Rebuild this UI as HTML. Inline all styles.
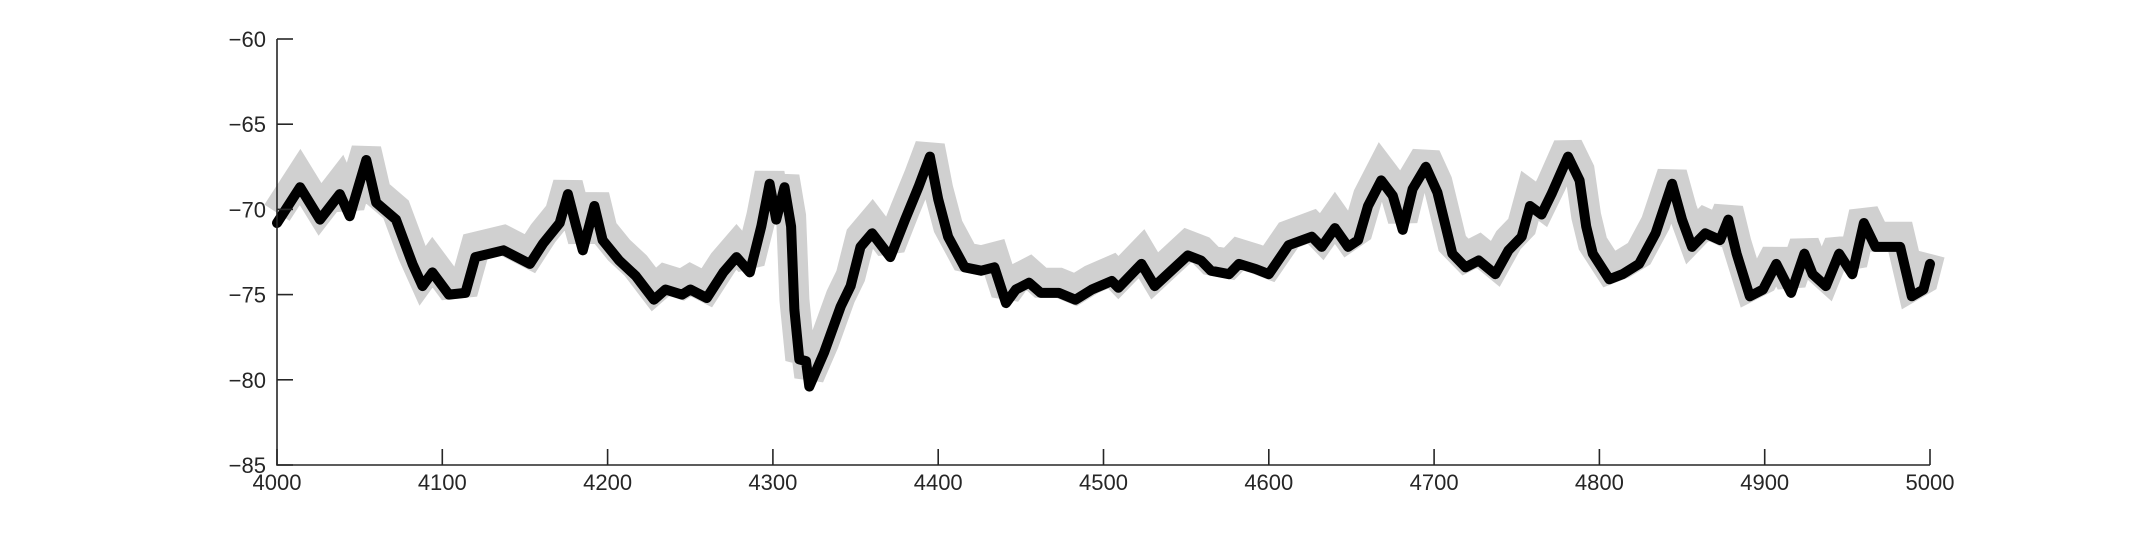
<!DOCTYPE html>
<html><head><meta charset="utf-8"><style>
html,body{margin:0;padding:0;background:#fff;width:2133px;height:533px;overflow:hidden}
svg{display:block}
text{font-family:"Liberation Sans",sans-serif;font-size:22px;fill:#262626}
</style></head><body>
<svg id="chart" width="2133" height="533" viewBox="0 0 2133 533">
<g id="band"></g>
<g id="series"></g>
<g id="axes"></g>
</svg>
<script>
const xVals=[4000,4014,4026,4038,4044,4054,4060,4072,4082,4088,4094,4104,4114,4120,4137,4153,4161,4171,4176,4181,4185,4192,4197,4207,4217,4228,4235,4245,4250,4260,4270,4278,4286,4293,4298,4302,4307,4311,4313,4316,4320,4322,4331,4341,4347,4353,4360,4371,4380,4388,4395,4400,4406,4416,4426,4434,4441,4447,4455,4462,4473,4483,4493,4505,4509,4523,4531,4541,4551,4559,4565,4576,4582,4592,4600,4612,4626,4632,4640,4648,4654,4660,4668,4675,4681,4687,4695,4702,4707,4711,4719,4727,4737,4745,4753,4758,4765,4771,4781,4788,4792,4796,4806,4814,4824,4834,4844,4850,4856,4864,4873,4878,4883,4891,4899,4907,4916,4924,4929,4937,4945,4953,4960,4967,4976,4982,4989,4996,5000];
const yVals=[-70.8,-68.7,-70.6,-69.1,-70.4,-67.1,-69.6,-70.6,-73.2,-74.5,-73.7,-75.0,-74.9,-72.8,-72.4,-73.2,-72.0,-70.8,-69.1,-71.0,-72.4,-69.8,-71.8,-73.0,-73.9,-75.3,-74.7,-75.0,-74.7,-75.2,-73.7,-72.8,-73.7,-71.0,-68.5,-70.6,-68.7,-71.0,-75.9,-78.8,-78.9,-80.4,-78.4,-75.7,-74.5,-72.2,-71.4,-72.8,-70.6,-68.7,-66.9,-69.4,-71.6,-73.4,-73.6,-73.4,-75.5,-74.7,-74.3,-74.9,-74.9,-75.3,-74.7,-74.2,-74.6,-73.2,-74.5,-73.6,-72.7,-73.0,-73.6,-73.8,-73.2,-73.5,-73.8,-72.1,-71.6,-72.2,-71.1,-72.2,-71.8,-69.8,-68.3,-69.2,-71.2,-68.8,-67.5,-69.0,-71.0,-72.6,-73.4,-73.0,-73.8,-72.4,-71.6,-69.8,-70.3,-69.1,-66.9,-68.3,-71.0,-72.6,-74.1,-73.8,-73.2,-71.4,-68.5,-70.6,-72.2,-71.4,-71.8,-70.6,-72.6,-75.1,-74.7,-73.2,-74.9,-72.6,-73.8,-74.5,-72.6,-73.8,-70.8,-72.2,-72.2,-72.2,-75.1,-74.7,-73.2];
const xTicks=[4000,4100,4200,4300,4400,4500,4600,4700,4800,4900,5000];
const yTicks=[-60,-65,-70,-75,-80,-85];
const X0=277,X1=1930,Y0=39,Y1=465;
function sx(v){return X0+(v-4000)/1000*(X1-X0);}
function sy(v){return Y0+(-60-v)/25*(Y1-Y0);}
const NS="http://www.w3.org/2000/svg";
function mk(t,a,p){const e=document.createElementNS(NS,t);for(const k in a)e.setAttribute(k,a[k]);p.appendChild(e);return e;}
let dMean="",dBand="";
xVals.forEach((x,i)=>{dMean+=(i?"L":"M")+sx(x).toFixed(1)+" "+sy(yVals[i]).toFixed(1);dBand+=(i?"L":"M")+sx(x).toFixed(1)+" "+sy(yVals[i]+0.6).toFixed(1);});
const band=mk("path",{d:dBand,fill:"none",stroke:"#d0d0d0","stroke-width":30,"stroke-linejoin":"miter","stroke-miterlimit":2,"stroke-linecap":"butt"},document.getElementById("band"));


const line=mk("path",{d:dMean,fill:"none",stroke:"#000","stroke-width":10,"stroke-linejoin":"round","stroke-linecap":"round"},document.getElementById("series"));


const ax=document.getElementById("axes");
mk("path",{d:`M${X0} ${Y0}L${X0} ${Y1}L${X1} ${Y1}`,fill:"none",stroke:"#262626","stroke-width":1.6},ax);
xTicks.forEach(t=>{const x=sx(t);
mk("line",{x1:x,y1:Y1,x2:x,y2:Y1-16,stroke:"#262626","stroke-width":1.6},ax);
const tx=mk("text",{x:x,y:490,"text-anchor":"middle"},ax);tx.textContent=t;

});
yTicks.forEach(t=>{const y=sy(t);
mk("line",{x1:X0,y1:y,x2:X0+16,y2:y,stroke:"#262626","stroke-width":1.6},ax);
const tx=mk("text",{x:266,y:y+8,"text-anchor":"end"},ax);tx.textContent=String(t).replace("-","\u2212");

});
</script>
</body></html>
